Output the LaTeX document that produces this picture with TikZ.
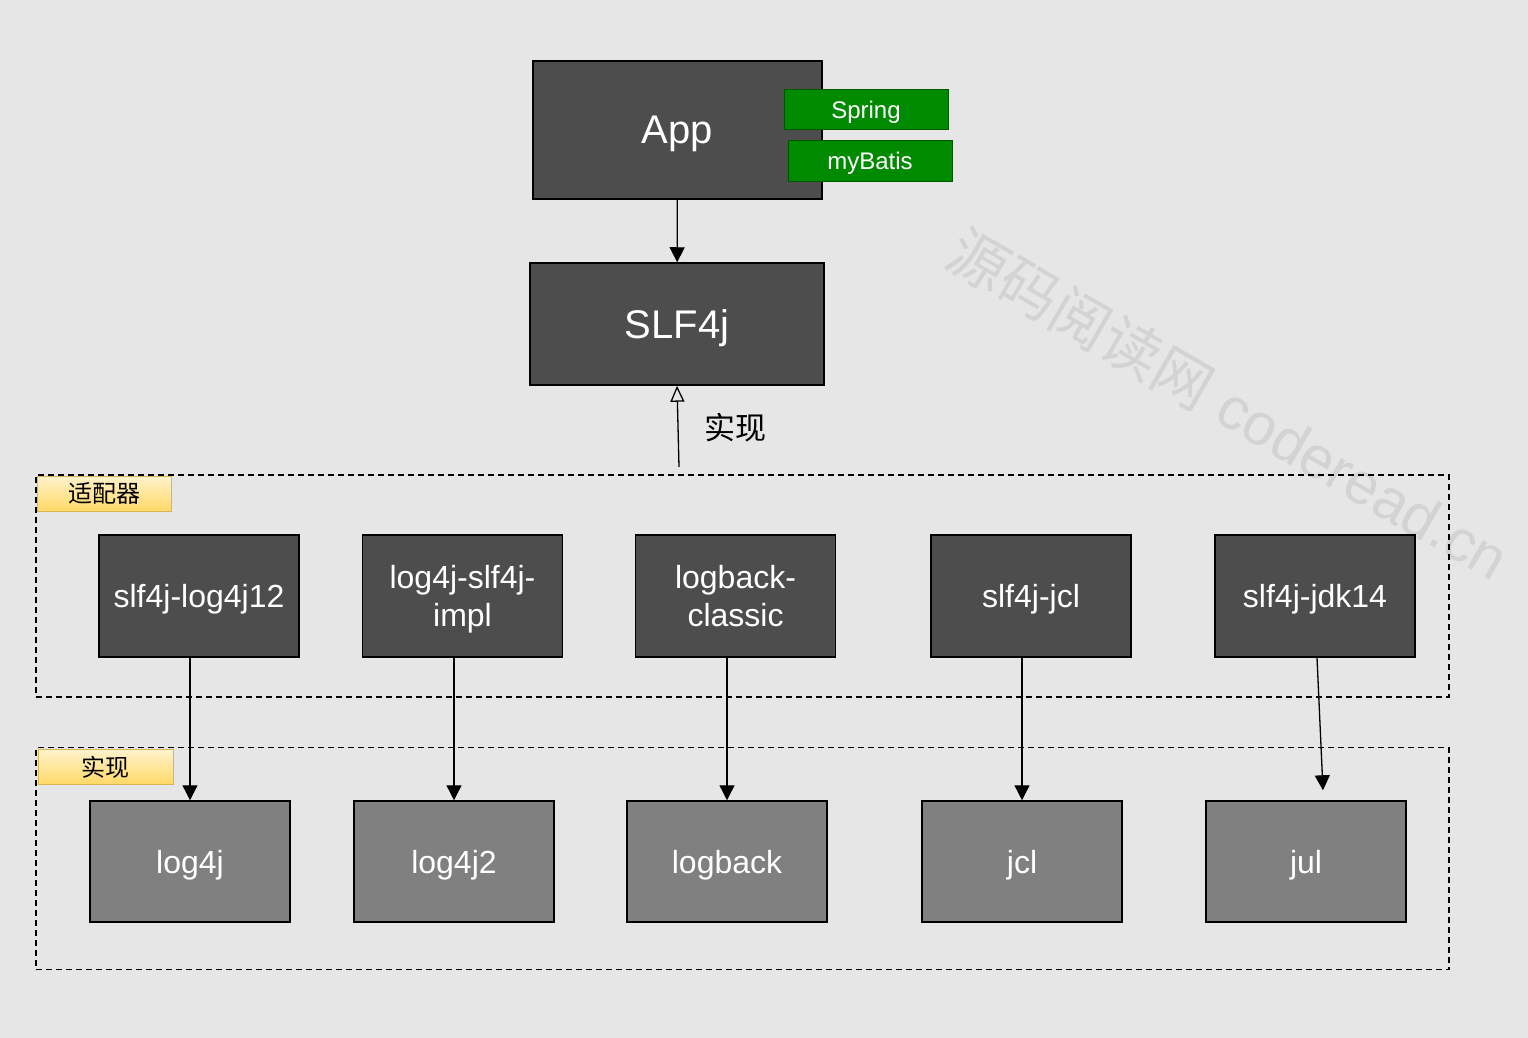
\documentclass[tikz,border=0pt]{standalone}
\usepackage{xcolor}
\usepackage{fontspec}
\setmainfont{Liberation Sans}
\newfontfamily\cjk{Noto Sans CJK SC}
\usepackage{tikz}
\usetikzlibrary{arrows.meta}
\usetikzlibrary{positioning, shapes.misc, backgrounds}
\definecolor{canvas}{HTML}{E6E6E6}
\definecolor{boxdark}{HTML}{4D4D4D}
\definecolor{boxgrey}{HTML}{808080}
\definecolor{libgreen}{HTML}{008A00}
\definecolor{libline}{HTML}{005700}
\definecolor{tagtop}{HTML}{FFF2CC}
\definecolor{tagbottom}{HTML}{FFD966}
\definecolor{tagline}{HTML}{D6B656}
\definecolor{markgrey}{HTML}{D3D3D3}
\tikzset{
core box/.style = { rectangle, draw = black, fill = boxdark, text = white, line width = 1.5pt, inner sep = 0pt, text depth = 0pt, font = \fontsize{40}{48}\selectfont },
adapter box/.style = { rectangle, draw = black, fill = boxdark, text = white, line width = 1.5pt, inner sep = 0pt, text depth = 0pt, minimum width = 200pt, minimum height = 122pt, align = center, font = \fontsize{32}{38}\selectfont },
impl box/.style = { adapter box, fill = boxgrey, minimum height = 121pt },
lib/.style = { rectangle, draw = libline, fill = libgreen, text = white, line width = 1pt, inner sep = 0pt, text depth = 0pt, minimum width = 164pt, minimum height = 40pt, font = \fontsize{24}{28}\selectfont },
group/.style = { rectangle, draw = black, line width = 1.3pt, dash pattern = on 6pt off 4pt, minimum width = 1413pt, minimum height = 222pt },
tag/.style = { rectangle, draw = tagline, top color = tagtop, bottom color = tagbottom, line width = 1pt, inner sep = 0pt, minimum width = 134pt, minimum height = 35pt, font = \cjk\fontsize{24}{28}\selectfont },
uses/.style = { line width = 1.3pt, -{Triangle[width = 15pt, length = 15pt]} },
realizes/.style = { line width = 1.3pt, -{Triangle[open, width = 14pt, length = 16pt]} },
watermark/.style = { text = markgrey, rotate = -30, inner sep = 0pt, font = \fontsize{59}{62}\selectfont },
}

\begin{document}
\begin{tikzpicture}[x = 1pt, y = -1pt]
    \fill[canvas] (0, 0) rectangle (1528, 1038);
    \useasboundingbox (0, 0) rectangle (1528, 1038);
    \node[watermark] (mark) at (1229, 404) {{\cjk 源码阅读网} coderead.cn};

    % groups
    \node[group] (adapters) at (742.5, 586) {};
    \node[group] (impls) at (742.5, 858.5) {};
    \node[tag] (adaptertag) at (104, 493.5) {适配器};
    \node[tag, minimum width = 135pt] (impltag) at (105.5, 767) {实现};

    \node[core box, minimum width = 289pt, minimum height = 138pt] (app) at (677.5, 130) {App};
    \node[lib] (spring) at (866, 109.5) {Spring};
    \node[lib] (mybatis) at (870, 161) {myBatis};
    \node[core box, minimum width = 294pt, minimum height = 122pt] (slf4j) at (677, 324) {SLF4j};

    \node[adapter box] (a1) at (199, 596) {slf4j-log4j12};
    \node[adapter box] (a2) at (462.5, 596) {log4j-slf4j-\\impl};
    \node[adapter box] (a3) at (735.5, 596) {logback-\\classic};
    \node[adapter box] (a4) at (1031, 596) {slf4j-jcl};
    \node[adapter box] (a5) at (1315, 596) {slf4j-jdk14};

    \node[impl box] (i1) at (190, 861.5) {log4j};
    \node[impl box] (i2) at (454, 861.5) {log4j2};
    \node[impl box] (i3) at (727, 861.5) {logback};
    \node[impl box] (i4) at (1022, 861.5) {jcl};
    \node[impl box] (i5) at (1306, 861.5) {jul};

    \draw[uses] (app) -- (slf4j);
    \coordinate (realizefoot) at (679, 467);
    \draw[realizes] (realizefoot) -- (slf4j.south);
    \node[font = \cjk\fontsize{31}{34}\selectfont] (realizelabel) at (735, 428) {实现};

    \draw[uses] (a1.south -| i1.north) -- (i1.north);
    \draw[uses] (a2.south -| i2.north) -- (i2.north);
    \draw[uses] (a3.south -| i3.north) -- (i3.north);
    \draw[uses] (a4.south -| i4.north) -- (i4.north);
    \draw[uses] ([xshift = 2pt]a5.south) -- ([xshift = 17pt, yshift = 10pt]i5.north);
\end{tikzpicture}
\end{document}
